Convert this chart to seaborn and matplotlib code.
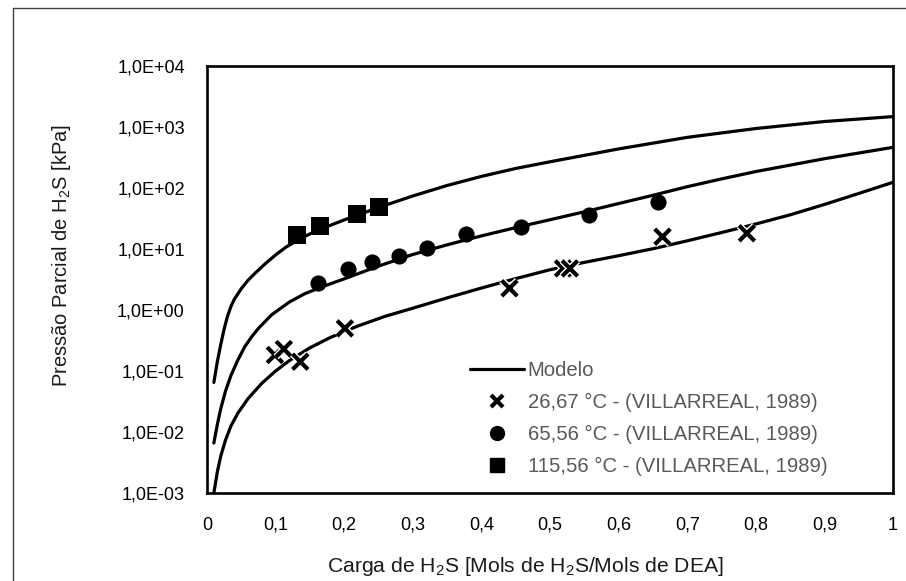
import numpy as np
import pandas as pd
import matplotlib
matplotlib.use("Agg")
import matplotlib.pyplot as plt
import matplotlib.patheffects as pe
from matplotlib.lines import Line2D
import seaborn as sns

# ---------------- data ----------------
x_model_115 = [0.01, 0.015, 0.02, 0.025, 0.03, 0.035, 0.04, 0.05, 0.06, 0.07, 0.085, 0.10, 0.115, 0.13,
               0.145, 0.16, 0.20, 0.25, 0.30, 0.35, 0.40, 0.45, 0.50, 0.60, 0.70, 0.80, 0.90, 1.00]
p_model_115 = [0.065, 0.141, 0.27, 0.49, 0.8, 1.15, 1.51, 2.24, 3.09, 4.0, 5.75, 8.0, 10.7, 13.5,
               16.6, 20, 30, 47.9, 74, 110, 155, 209, 269, 437, 676, 944, 1230, 1480]

x_model_65 = [0.01, 0.015, 0.02, 0.027, 0.035, 0.045, 0.055, 0.065, 0.075, 0.094, 0.12, 0.143, 0.17,
              0.20, 0.25, 0.30, 0.35, 0.40, 0.45, 0.50, 0.55, 0.60, 0.65, 0.70, 0.75, 0.80, 0.90, 1.00]
p_model_65 = [0.0066, 0.0132, 0.024, 0.047, 0.085, 0.151, 0.25, 0.363, 0.5, 0.83, 1.35, 1.86, 2.45,
              3.24, 5.25, 8.13, 11.7, 16.4, 22.4, 30.2, 40.7, 55.6, 75.9, 105, 141, 186, 302, 464]

x_model_26 = [0.01, 0.015, 0.02, 0.027, 0.035, 0.045, 0.06, 0.08, 0.10, 0.12, 0.15, 0.18, 0.218,
              0.26, 0.30, 0.35, 0.40, 0.45, 0.50, 0.55, 0.60, 0.65, 0.70, 0.75, 0.80, 0.85, 0.90, 0.95, 1.00]
p_model_26 = [0.001, 0.0022, 0.004, 0.0074, 0.0126, 0.0204, 0.0355, 0.063, 0.10, 0.148, 0.24, 0.355, 0.537,
              0.79, 1.07, 1.58, 2.29, 3.27, 4.57, 6.03, 7.76, 10.1, 13.6, 18.6, 25.7, 36.3, 53.7, 81.3, 124]

x_exp_26 = [0.099, 0.112, 0.136, 0.201, 0.441, 0.519, 0.529, 0.664, 0.787]
p_exp_26 = [0.183, 0.229, 0.142, 0.50, 2.27, 4.8, 4.8, 15.9, 18.1]

x_exp_65 = [0.162, 0.206, 0.240, 0.280, 0.320, 0.378, 0.457, 0.557, 0.658]
p_exp_65 = [2.74, 4.65, 6.19, 7.68, 10.5, 17.6, 22.7, 36.1, 59.7]

x_exp_115 = [0.131, 0.165, 0.219, 0.250]
p_exp_115 = [17.0, 23.8, 37.5, 49.4]

xticks = [0, 0.1, 0.2, 0.3, 0.4, 0.5, 0.6, 0.7, 0.8, 0.9, 1.0]
xtick_labels = ["0", "0,1", "0,2", "0,3", "0,4", "0,5", "0,6", "0,7", "0,8", "0,9", "1"]
yticks = [1e-3, 1e-2, 1e-1, 1e0, 1e1, 1e2, 1e3, 1e4]
ytick_labels = ["1,0E-03", "1,0E-02", "1,0E-01", "1,0E+00", "1,0E+01", "1,0E+02", "1,0E+03", "1,0E+04"]

legend_labels = ["Modelo",
                 "26,67 °C - (VILLARREAL, 1989)",
                 "65,56 °C - (VILLARREAL, 1989)",
                 "115,56 °C - (VILLARREAL, 1989)"]
xlabel = "Carga de H$_\\mathregular{2}$S [Mols de H$_\\mathregular{2}$S/Mols de DEA]"
ylabel = "Pressão Parcial de H$_\\mathregular{2}$S [kPa]"

# ---------------- build tables ----------------
model_df = pd.concat([
    pd.DataFrame({"x": x_model_26, "p": p_model_26, "curve": "26"}),
    pd.DataFrame({"x": x_model_65, "p": p_model_65, "curve": "65"}),
    pd.DataFrame({"x": x_model_115, "p": p_model_115, "curve": "115"}),
], ignore_index=True)

# ---------------- style ----------------
sns.set_theme(style="white")
plt.rcParams["font.family"] = ["Liberation Sans", "DejaVu Sans"]
plt.rcParams["mathtext.fontset"] = "custom"
plt.rcParams["mathtext.rm"] = "Liberation Sans"

W, H = 906, 581
fig = plt.figure(figsize=(W / 100, H / 100), dpi=100)
fig.patch.set_facecolor("white")
ax = fig.add_axes([207 / W, 1 - 493 / H, 686 / W, 427 / H])

sns.lineplot(data=model_df, x="x", y="p", units="curve", estimator=None,
             sort=False, color="black", linewidth=2.3, ax=ax, legend=False)

sns.scatterplot(x=x_exp_65, y=p_exp_65, marker="o", s=135, color="black",
                edgecolor="black", linewidth=0, ax=ax, zorder=4)
sns.scatterplot(x=x_exp_115, y=p_exp_115, marker="s", s=155, color="black",
                edgecolor="black", linewidth=0, ax=ax, zorder=4)
sc = ax.scatter(x_exp_26, p_exp_26, marker="x", s=125, color="black",
                linewidths=3.0, zorder=5)
sc.set_path_effects([pe.withStroke(linewidth=5, foreground="white")])

ax.set_yscale("log")
ax.set_xlim(0, 1)
ax.set_ylim(1e-3, 1e4)
ax.set_xticks(xticks)
ax.set_xticklabels(xtick_labels)
ax.set_yticks(yticks)
ax.set_yticklabels(ytick_labels)
ax.minorticks_off()
ax.tick_params(axis="both", length=0, labelsize=13, colors="black")
ax.tick_params(axis="y", pad=16)
ax.tick_params(axis="x", pad=17)
ax.set_xlabel("")
ax.set_ylabel("")
for s in ax.spines.values():
    s.set_visible(True)
    s.set_color("black")
    s.set_linewidth(1.9)

fig.text(62 / W, 1 - 255 / H, ylabel, rotation=90, ha="center", va="center",
         fontsize=14.5, color="#1a1a1a")
fig.text(525 / W, 1 - 566 / H, xlabel, ha="center", va="center",
         fontsize=15.2, color="#1a1a1a")

handles = [
    Line2D([], [], color="black", lw=2.3),
    Line2D([], [], color="black", marker="x", ls="none", ms=9, mew=3.0),
    Line2D([], [], color="black", marker="o", ls="none", ms=10),
    Line2D([], [], color="black", marker="s", ls="none", ms=10),
]
leg = ax.legend(handles, legend_labels, loc="upper left",
                bbox_to_anchor=(470 / W, 1 - 361 / H), bbox_transform=fig.transFigure,
                frameon=False, fontsize=14.6, labelcolor="#595959",
                handlelength=2.65, handletextpad=0.2, labelspacing=0.64,
                borderpad=0, borderaxespad=0)

# outer chart border (left and top edges visible)
fig.add_artist(Line2D([12.5 / W, 12.5 / W], [0, 1 - 7.5 / H], transform=fig.transFigure,
                      color="#404040", lw=1.0))
fig.add_artist(Line2D([12.5 / W, 1], [1 - 7.5 / H, 1 - 7.5 / H], transform=fig.transFigure,
                      color="#404040", lw=1.0))

fig.savefig("out.png", dpi=100, facecolor="white")
